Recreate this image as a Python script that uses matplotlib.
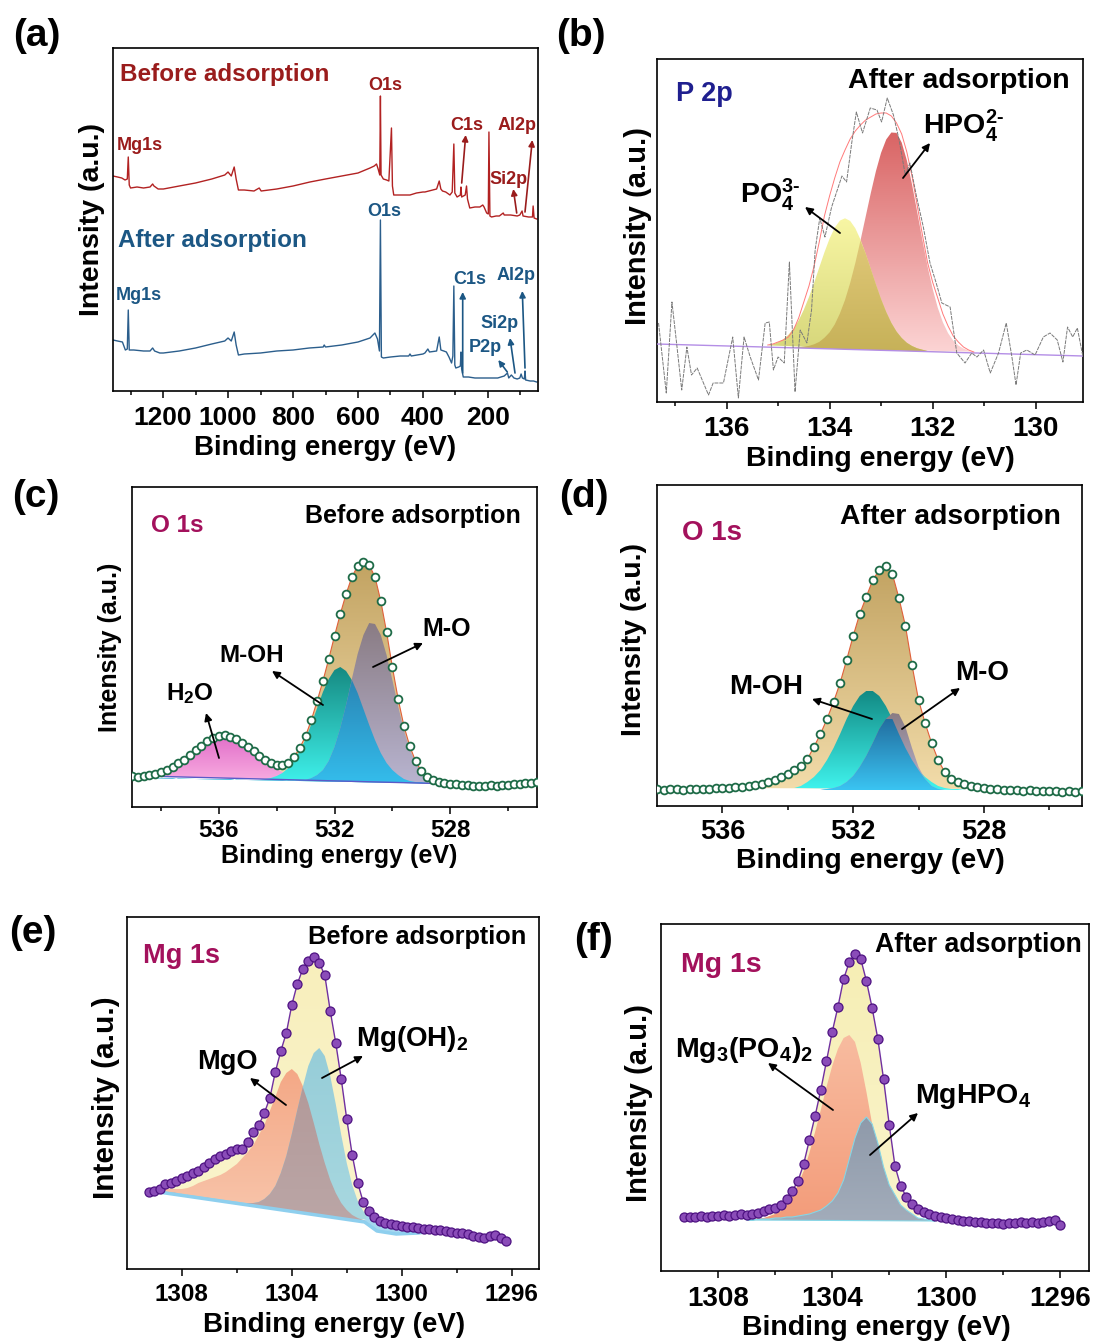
"""
XPS panels: survey, P 2p, O 1s (before/after) and Mg 1s (before/after).
"""

import numpy as np
import matplotlib
matplotlib.use("Agg")
import matplotlib.pyplot as plt
from matplotlib.patches import Polygon, FancyArrowPatch
from matplotlib.colors import LinearSegmentedColormap

plt.rcParams["font.family"] = ["Liberation Sans", "DejaVu Sans"]
plt.rcParams["font.weight"] = "bold"
plt.rcParams["mathtext.fontset"] = "custom"
plt.rcParams["mathtext.rm"] = "Liberation Sans:bold"
plt.rcParams["mathtext.it"] = "Liberation Sans:bold:italic"
plt.rcParams["mathtext.bf"] = "Liberation Sans:bold"

W, H = 1097, 1342

# ── Data (intensities in arbitrary units) ─────────────────────────────────────

# (a) survey spectra
BEFORE_BE = [1354, 1340, 1327, 1317, 1310, 1307, 1304, 1300, 1280, 1260,
             1240, 1232, 1228, 1215, 1199, 1150, 1100, 1050, 1010, 1000,
             990, 981, 975, 968, 950, 920, 904, 898, 850, 800,
             748, 700, 650, 600, 563, 550, 543, 538, 533, 531,
             529, 522, 512, 505, 497, 494, 490, 470, 440, 420,
             400, 394, 370, 358, 350, 345, 340, 330, 317, 310,
             305, 302, 295, 285, 283, 281, 270, 266, 263, 256,
             240, 225, 216, 212, 204, 199, 197, 194, 189, 175,
             165, 153, 150, 130, 110, 102, 95, 92, 75, 63,
             61, 58, 50]
BEFORE_I = [215, 214, 213, 211, 212, 234, 206, 203, 204, 203,
            204, 207, 205, 202, 202, 205, 208, 212, 216, 219,
            215, 224, 212, 201, 201, 200, 203, 200, 202, 205,
            209, 212, 215, 218, 223, 225, 227, 222, 216, 295,
            216, 212, 211, 210, 263, 205, 196, 196, 196, 198,
            199, 199, 201, 202, 210, 202, 200, 199, 196, 199,
            247, 198, 194, 196, 204, 194, 196, 205, 192, 183,
            184, 184, 186, 184, 178, 177, 259, 175, 174, 175,
            175, 178, 176, 176, 175, 176, 180, 175, 174, 174,
            185, 173, 172]
AFTER_BE = [1354, 1340, 1325, 1316, 1310, 1307, 1304, 1290, 1260, 1240,
            1232, 1226, 1210, 1199, 1150, 1100, 1050, 1010, 1000, 990,
            981, 975, 968, 950, 900, 850, 800, 750, 707, 704,
            700, 650, 600, 563, 548, 540, 534, 531, 528, 522,
            500, 470, 444, 440, 436, 400, 394, 385, 380, 358,
            350, 345, 336, 328, 320, 312, 308, 305, 302, 299,
            290, 285, 283, 281, 276, 260, 240, 200, 170, 160,
            150, 140, 136, 128, 120, 110, 102, 98, 94, 88,
            86, 84, 70, 60, 50]
AFTER_I = [51, 50, 49, 41, 42, 81, 41, 41, 40, 40,
           43, 40, 38, 38, 40, 43, 47, 50, 53, 50,
           59, 46, 36, 37, 38, 40, 41, 43, 44, 46,
           44, 46, 49, 53, 58, 52, 40, 171, 34, 33,
           34, 35, 35, 37, 35, 37, 38, 42, 39, 40,
           54, 41, 40, 39, 34, 28, 35, 105, 26, 23,
           24, 25, 39, 22, 14, 14, 13, 13, 13, 14,
           15, 18, 13, 16, 13, 12, 13, 17, 13, 12,
           20, 11, 10, 10, 9]

# (b) P 2p, after adsorption
P2P_BE = [137.32, 137.17, 137.06, 136.97, 136.87, 136.77, 136.68, 136.57, 136.35, 136.26,
          136.06, 135.88, 135.77, 135.66, 135.54, 135.38, 135.25, 135.17, 135.09, 135.0,
          134.88, 134.78, 134.67, 134.57, 134.44, 134.35, 134.28, 134.19, 134.09, 133.96,
          133.85, 133.76, 133.67, 133.57, 133.48, 133.36, 133.21, 133.08, 132.99, 132.88,
          132.76, 132.65, 132.53, 132.44, 132.31, 132.18, 132.05, 131.93, 131.82, 131.66,
          131.53, 131.37, 131.24, 131.14, 131.01, 130.88, 130.72, 130.57, 130.46, 130.38,
          130.29, 130.17, 130.01, 129.85, 129.72, 129.58, 129.47, 129.38, 129.28, 129.19,
          129.08]
P2P_I = [79, 9, 100, 59, 12, 55, 27, 34, 7, 19,
         19, 65, 4, 65, 45, 22, 79, 80, 32, 45,
         39, 140, 10, 72, 59, 92, 152, 184, 165, 195,
         212, 226, 220, 259, 290, 269, 294, 292, 280, 304,
         287, 262, 227, 239, 205, 175, 139, 119, 99, 95,
         49, 39, 49, 45, 52, 29, 49, 79, 45, 17,
         49, 52, 47, 65, 69, 62, 40, 75, 65, 74,
         45]
P2P_BASE_BE = [137.35, 129.08]
P2P_BASE_I = [58, 46]
# fitted curves on 135.2 -> 131.2 eV, 0.1 eV step
P2P_FIT_START, P2P_FIT_END = 135.2, 131.2
PO4_B = [56.6, 57.7, 59.7, 62.6, 67.1, 73.3, 81.6, 92.2, 104.8, 119.2,
         134.5, 149.6, 163.3, 174.3, 181.4, 183.7, 181.1, 173.7, 162.5, 148.5,
         133.1, 117.5, 102.8, 89.9, 79.0, 70.4, 64.0, 59.2, 56.0, 53.7,
         52.3, 51.0, 50.8, 50.4, 50.1, 49.9, 49.8, 49.6, 49.5, 49.3,
         49.2]
HPO4_B = [54.9, 54.7, 54.6, 54.4, 54.5, 54.6, 54.8, 55.3, 56.1, 57.7,
          60.1, 64.2, 69.6, 77.5, 88.4, 102.0, 119.0, 138.9, 161.4, 185.1,
          208.8, 230.8, 249.2, 262.5, 269.5, 269.1, 259.5, 241.7, 217.8, 190.6,
          162.7, 136.3, 113.4, 94.4, 79.6, 68.9, 61.5, 56.5, 53.4, 51.4,
          50.3]
ENV_B = [57, 58, 60, 62, 65, 72, 84, 100, 116, 136,
         160, 186, 206, 224, 240, 252, 263, 271, 277, 282,
         285, 288, 289, 289, 286, 279, 268, 250, 226, 197,
         168, 140, 120, 104, 88, 76, 66, 60, 55, 52,
         50]

# (c) O 1s, before adsorption: data 539.0 -> 525.0 eV, fit 538.6 -> 527.8 eV (0.2 eV)
O1S_B_START, O1S_B_END = 539.0, 525.0
O1S_B = [31, 30, 31, 32, 33, 35, 37, 40, 44, 47,
         52, 57, 61, 66, 69, 71, 72, 70, 68, 64,
         60, 56, 51, 47, 44, 42, 42, 44, 50, 59,
         71, 87, 106, 126, 148, 171, 193, 213, 230, 241,
         245, 242, 230, 206, 175, 140, 108, 81, 61, 46,
         36, 30, 27, 25, 24, 23, 23, 22, 22, 21,
         21, 21, 22, 21, 22, 22, 23, 23, 24, 24,
         25]
O1S_B_FIT_START, O1S_B_FIT_END = 538.6, 527.8
H2O_C = [31, 32, 33, 35, 37, 40, 43, 48, 52, 57,
         61, 65, 68, 70, 71, 70, 68, 64, 60, 56,
         51, 46, 42, 38, 35, 32, 30, 29, 28, 27,
         27, 26, 26, 26, 26, 25, 25, 25, 25, 25,
         25, 25, 25, 25, 24, 24, 24, 24, 24, 24,
         24, 24, 24, 23, 23]
MOH_C = [29, 29, 29, 29, 29, 29, 28, 28, 28, 28,
         28, 28, 28, 28, 28, 28, 27, 27, 27, 27,
         27, 28, 29, 31, 34, 39, 46, 56, 68, 83,
         99, 115, 128, 137, 140, 136, 127, 114, 98, 82,
         67, 54, 44, 37, 32, 28, 26, 25, 25, 24,
         24, 24, 24, 23, 23]
MO_C = [29, 29, 29, 29, 29, 29, 28, 28, 28, 28,
        28, 28, 28, 28, 28, 28, 27, 27, 27, 27,
        27, 27, 27, 27, 27, 26, 26, 27, 27, 29,
        32, 37, 46, 60, 79, 102, 128, 153, 172, 184,
        183, 172, 152, 127, 101, 77, 58, 45, 35, 30,
        27, 25, 24, 24, 23]

# (d) O 1s, after adsorption: data 538.0 -> 525.0 eV, fit 533.8 -> 528.6 eV
O1S_A_START, O1S_A_END = 538.0, 525.0
O1S_A = [17, 16, 17, 17, 16, 17, 17, 17, 17, 18,
         18, 18, 19, 19, 20, 21, 22, 24, 26, 29,
         32, 36, 40, 47, 59, 72, 87, 104, 123, 146,
         170, 192, 209, 226, 236, 240, 232, 208, 180, 141,
         106, 83, 63, 46, 34, 27, 24, 22, 20, 19,
         18, 17, 17, 16, 16, 16, 15, 16, 15, 15,
         15, 15, 14, 15, 14, 15]
O1S_A_FIT_START, O1S_A_FIT_END = 533.8, 528.6
O1S_A_ENV = (536.0, 527.6)
MOH_D = [18, 20, 24, 29, 36, 46, 58, 72, 87, 100,
         110, 115, 115, 110, 100, 87, 72, 58, 46, 36,
         29, 24, 20, 18, 17, 17, 16]
MO_D = [16, 16, 16, 16, 16, 17, 18, 20, 24, 30,
        39, 50, 63, 77, 87, 93, 92, 79, 58, 39,
        27, 20, 17, 16, 16, 16, 16]

# (e) Mg 1s, before adsorption: data 1309.2 -> 1296.2 eV, fit 1309.0 -> 1301.0 eV
MG_B_START, MG_B_END = 1309.2, 1296.2
MG_B = [77, 78, 80, 85, 86, 88, 91, 93, 96, 98,
        102, 106, 110, 113, 115, 118, 120, 120, 127, 137,
        144, 156, 171, 197, 218, 236, 264, 285, 300, 308,
        312, 306, 294, 258, 226, 190, 150, 114, 86, 67,
        58, 52, 48, 46, 45, 44, 43, 42, 42, 41,
        40, 40, 39, 39, 38, 37, 36, 36, 35, 33,
        32, 31, 33, 34, 31, 28]
MG_B_FIT_START, MG_B_FIT_END = 1309.0, 1301.0
MGO_E = [79, 79, 80, 80, 80, 80, 81, 83, 86, 88,
         90, 92, 94, 97, 101, 105, 111, 117, 124, 134,
         144, 158, 172, 187, 196, 200, 195, 183, 166, 146,
         125, 106, 89, 76, 66, 59, 54, 51, 49, 47,
         46]
MGOH_E = [79, 78, 77, 77, 76, 75, 74, 73, 72, 72,
          71, 70, 69, 68, 67, 67, 66, 66, 66, 67,
          70, 75, 83, 96, 113, 135, 159, 182, 203, 216,
          221, 213, 193, 165, 134, 106, 84, 68, 58, 52,
          48]
MG_B_BASE_BE = [1309.1, 1301.35, 1300.9, 1300.2, 1299.4, 1298.6]
MG_B_BASE_I = [78, 47, 38, 35, 36, 39]

# (f) Mg 1s, after adsorption: data 1309.2 -> 1296.0 eV, fit 1307.0 -> 1300.4 eV
MG_A_START, MG_A_END = 1309.2, 1296.0
MG_A = [54, 54, 54, 55, 54, 55, 55, 56, 55, 56,
        57, 56, 57, 58, 60, 62, 63, 66, 72, 80,
        90, 107, 131, 155, 181, 210, 239, 264, 292, 309,
        317, 312, 290, 263, 232, 192, 146, 105, 85, 74,
        67, 62, 59, 57, 55, 54, 53, 52, 51, 50,
        50, 49, 49, 48, 48, 48, 47, 48, 48, 49,
        48, 49, 48, 49, 50, 51, 46]
MG_A_FIT_START, MG_A_FIT_END = 1307.0, 1300.4
MG_A_ENV = (1307.4, 1300.4)
MG3PO4_F = [52, 52, 53, 53, 55, 57, 60, 66, 74, 86,
            100, 118, 139, 161, 184, 205, 222, 233, 236, 229,
            208, 179, 147, 117, 93, 75, 64, 57, 53, 51,
            50, 50, 50, 50]
MGHPO4_F = [51, 51, 52, 52, 52, 53, 53, 54, 54, 55,
            56, 57, 59, 61, 65, 70, 78, 91, 112, 133,
            148, 154, 147, 128, 104, 86, 76, 66, 61, 57,
            53, 52, 51, 50]

# ── Style ─────────────────────────────────────────────────────────────────────

RED_T, RED_L = "#9a1c1c", "#b22222"
BLU_T, BLU_L = "#1c5784", "#2b5e8c"
MAGENTA = "#a3115c"
NAVY = "#1f1f8f"

fig = plt.figure(figsize=(W / 100, H / 100), dpi=100)


def fxy(x, y):
    return (x / W, 1 - y / H)


def text(x, y, s, size, color="black", ha="left", va="center", rot=0):
    fig.text(x / W, 1 - y / H, s, fontsize=size, color=color, ha=ha, va=va,
             fontweight="bold", rotation=rot)


def arrow(tail, head, color="black", lw=1.3, ms=11):
    fig.add_artist(FancyArrowPatch(fxy(*tail), fxy(*head), arrowstyle="-|>",
                                   mutation_scale=ms, color=color, lw=lw,
                                   shrinkA=0, shrinkB=0, transform=fig.transFigure))


def panel(box, xlim, major, minor, fs, pad):
    l, t, r, b = box
    ax = fig.add_axes([l / W, 1 - b / H, (r - l) / W, (b - t) / H])
    ax.set_xticks(major, labels=[str(v) for v in major])
    ax.set_xticks(minor, minor=True)
    ax.set_yticks([])
    ax.tick_params(axis="x", which="major", direction="out", length=5, width=1.1,
                   labelsize=fs, pad=pad)
    ax.tick_params(axis="x", which="minor", direction="out", length=3, width=1.1)
    for s in ax.spines.values():
        s.set_linewidth(1.2)
    return ax


def finish(ax, box, xlim):
    ax.set_xlim(*xlim)
    ax.set_ylim(0, box[3] - box[1])


def grad_fill(ax, x, y, top, bottom, z, edge="none", lw=0.0):
    x = np.asarray(x, float)
    y = np.asarray(y, float)
    poly = Polygon(np.column_stack([x, y]), closed=True, facecolor="none",
                   edgecolor=edge, lw=lw, zorder=z + 0.1)
    ax.add_patch(poly)
    cmap = LinearSegmentedColormap.from_list("g", [bottom, top])
    img = ax.imshow(np.linspace(0, 1, 256).reshape(-1, 1), cmap=cmap, origin="lower",
                    aspect="auto", interpolation="bilinear", zorder=z,
                    extent=[x.min(), x.max(), y.min(), y.max()])
    img.set_clip_path(poly)


def window(x, y, hi, lo):
    x = np.asarray(x, float)
    y = np.asarray(y, float)
    m = (x <= hi + 1e-6) & (x >= lo - 1e-6)
    return x[m], y[m]


def axis_labels(xl, yl, fsx, fsy):
    text(xl[0], xl[1], "Binding energy (eV)", fsx, ha="center")
    text(yl[0], yl[1], "Intensity (a.u.)", fsy, ha="center", rot=90)


# ── (a) survey ────────────────────────────────────────────────────────────────
BOX_A = (113, 48, 538, 391)
XL_A = (1354, 46)
ax = panel(BOX_A, XL_A, [1200, 1000, 800, 600, 400, 200],
           [1300, 1100, 900, 700, 500, 300, 100], 19, 5.5)
ax.plot(BEFORE_BE, BEFORE_I, color=RED_L, lw=1.0)
ax.plot(AFTER_BE, AFTER_I, color=BLU_L, lw=1.0)
finish(ax, BOX_A, XL_A)
axis_labels((325, 448), (92, 219), 20, 20.5)

text(120, 74, "Before adsorption", 17.5, RED_T)
text(117, 145, "Mg1s", 13, RED_T)
text(385, 86, "O1s", 13, RED_T, ha="center")
text(467, 126, "C1s", 13, RED_T, ha="center")
text(517, 126, "Al2p", 13, RED_T, ha="center")
text(509, 179, "Si2p", 13, RED_T, ha="center")
arrow((461.7, 183), (465.7, 135), RED_T, 1.2, 9)
arrow((525, 212), (532.3, 140), RED_T, 1.2, 9)
arrow((516.7, 213), (513.3, 189), RED_T, 1.2, 9)

text(118, 241, "After adsorption", 17.5, BLU_T)
text(116, 295, "Mg1s", 13, BLU_T)
text(384, 211, "O1s", 13, BLU_T, ha="center")
text(470, 280, "C1s", 13, BLU_T, ha="center")
text(516, 275, "Al2p", 13, BLU_T, ha="center")
text(500, 323, "Si2p", 13, BLU_T, ha="center")
text(485, 348, "P2p", 13, BLU_T, ha="center")
arrow((462.7, 373), (462.7, 292), BLU_T, 1.2, 9)
arrow((525, 368), (522.3, 291), BLU_T, 1.2, 9)
arrow((515, 373), (510, 338), BLU_T, 1.2, 9)
arrow((507.3, 372), (498.3, 360), BLU_T, 1.2, 9)

# ── (b) P 2p ──────────────────────────────────────────────────────────────────
BOX_B = (657, 59, 1083, 402)
XL_B = (137.35, 129.08)
ax = panel(BOX_B, XL_B, [136, 134, 132, 130], [137, 135, 133, 131], 20, 4.8)
fit_b = np.linspace(P2P_FIT_START, P2P_FIT_END, len(PO4_B))
grad_fill(ax, fit_b, HPO4_B, "#d96464", "#fcd4d4", 2)
grad_fill(ax, fit_b, PO4_B, "#f8f6a4", "#d6d67a", 3)
grad_fill(ax, fit_b, np.minimum(PO4_B, HPO4_B), "#e0c878", "#c6b158", 4)
ax.plot(P2P_BASE_BE, P2P_BASE_I, color="#b48ee6", lw=1.0, zorder=5)
ax.plot(fit_b, ENV_B, color="#ff7a7a", lw=0.7, zorder=5)
ax.plot(P2P_BE, P2P_I, color="#7a7a7a", lw=0.7, ls=(0, (4, 1)), zorder=6)
finish(ax, BOX_B, XL_B)
axis_labels((880, 459), (638, 226), 20.5, 21)

text(676, 94, "P 2p", 19.5, NAVY)
text(1070, 81, "After adsorption", 20.5, ha="right")
text(923, 134, r"HPO$_4^{2\text{-}}$", 20.5, va="baseline")
text(740, 203, r"PO$_4^{3\text{-}}$", 20.5, va="baseline")
arrow((903, 178), (930, 143))
arrow((840, 233), (805, 207))

# ── (c) O 1s before ───────────────────────────────────────────────────────────
BOX_C = (132, 487, 537, 807)
XL_C = (539.0, 525.0)
ax = panel(BOX_C, XL_C, [536, 532, 528], [538, 534, 530, 526], 17.5, 3.4)
be_c = np.linspace(O1S_B_START, O1S_B_END, len(O1S_B))
fit_c = np.linspace(O1S_B_FIT_START, O1S_B_FIT_END, len(H2O_C))
ex, ey = window(be_c, O1S_B, O1S_B_FIT_START, O1S_B_FIT_END)
grad_fill(ax, ex, ey, "#c2a362", "#f2dcaa", 1)
grad_fill(ax, fit_c, H2O_C, "#e26fc9", "#f9b0e2", 2)
grad_fill(ax, fit_c, MOH_C, "#168a82", "#3ff2ec", 3)
grad_fill(ax, fit_c, MO_C, "#8a7c84", "#b8b4d0", 4)
grad_fill(ax, fit_c, np.minimum(MOH_C, MO_C), "#2a86b6", "#34bdec", 5)
ax.plot([fit_c[0], fit_c[-1]], [H2O_C[0], MO_C[-1]], color="#5a5ac8", lw=1.0, zorder=6)
ax.plot(be_c, O1S_B, color="#e0603a", lw=0.8, zorder=6)
ax.plot(be_c, O1S_B, ls="none", marker="o", ms=5.6, mfc="white", mec="#1e6b47",
        mew=1.3, zorder=7)
finish(ax, BOX_C, XL_C)
axis_labels((339, 856), (110, 647), 18, 18)

text(151, 526, "O 1s", 17.5, MAGENTA)
text(305, 516, "Before adsorption", 18)
text(422, 629, "M-O", 18)
text(219, 656, "M-OH", 17.5)
text(166, 700, r"H$_2$O", 17.5, va="baseline")
arrow((373, 667), (423, 643))
arrow((323, 705), (272, 671))
arrow((219, 758), (206, 713))

# ── (d) O 1s after ────────────────────────────────────────────────────────────
BOX_D = (657, 485, 1082, 806)
XL_D = (538.0, 525.0)
ax = panel(BOX_D, XL_D, [536, 532, 528], [534, 530, 526], 19.5, 4.5)
be_d = np.linspace(O1S_A_START, O1S_A_END, len(O1S_A))
fit_d = np.linspace(O1S_A_FIT_START, O1S_A_FIT_END, len(MOH_D))
ex, ey = window(be_d, O1S_A, *O1S_A_ENV)
grad_fill(ax, ex, ey, "#c2a362", "#f2dcaa", 1)
grad_fill(ax, fit_d, MOH_D, "#128a84", "#40f4ee", 3)
grad_fill(ax, fit_d, MO_D, "#8a7c84", "#b8b4d0", 4)
grad_fill(ax, fit_d, np.minimum(MOH_D, MO_D), "#226ea0", "#3ac4f2", 5)
ax.plot(be_d, O1S_A, color="#e0603a", lw=0.8, zorder=6)
ax.plot(be_d, O1S_A, ls="none", marker="o", ms=5.6, mfc="white", mec="#1e6b47",
        mew=1.3, zorder=7)
finish(ax, BOX_D, XL_D)
axis_labels((870, 861), (634, 639), 20.5, 20.5)

text(682, 533, "O 1s", 20, MAGENTA)
text(840, 517, "After adsorption", 20.4)
text(729, 687, "M-OH", 20)
text(955, 673, "M-O", 20)
arrow((872, 719), (812, 699))
arrow((902, 729), (960, 688))

# ── (e) Mg 1s before ──────────────────────────────────────────────────────────
BOX_E = (127, 917, 539, 1269)
XL_E = (1310.0, 1295.0)
ax = panel(BOX_E, XL_E, [1308, 1304, 1300, 1296], [1306, 1302, 1298], 17.5, 4.8)
be_e = np.linspace(MG_B_START, MG_B_END, len(MG_B))
fit_e = np.linspace(MG_B_FIT_START, MG_B_FIT_END, len(MGO_E))
ex, ey = window(be_e, MG_B, MG_B_START, MG_B_FIT_END)
grad_fill(ax, ex, ey, "#f8efbc", "#faf4cc", 1)
grad_fill(ax, fit_e, MGO_E, "#f4a886", "#f8c6ac", 2)
grad_fill(ax, fit_e, MGOH_E, "#96cdd8", "#a8d8e0", 3)
grad_fill(ax, fit_e, np.minimum(MGO_E, MGOH_E), "#b39a9a", "#bba6a6", 4)
dx, dy = window(be_e, MG_B, MG_B_BASE_BE[1], MG_B_BASE_BE[-1])
dip = np.column_stack([np.r_[dx, MG_B_BASE_BE[:0:-1]], np.r_[dy, MG_B_BASE_I[:0:-1]]])
ax.add_patch(Polygon(dip, closed=True, fc="#a6d8f0", ec="none", zorder=4.5))
ax.plot(MG_B_BASE_BE, MG_B_BASE_I, color="#8ecfee", lw=2.5, zorder=4.6)
ax.plot(be_e, MG_B, color="#7030a0", lw=1.0, zorder=5)
ax.plot(be_e, MG_B, ls="none", marker="o", ms=6.5, mfc="#8a4cb8", mec="#4e1282",
        mew=0.9, zorder=6)
finish(ax, BOX_E, XL_E)
axis_labels((334, 1325), (106, 1098), 20, 21.5)

text(143, 956, "Mg 1s", 19.5, MAGENTA)
text(308, 937, "Before adsorption", 18.3)
text(197, 1062, "MgO", 19.5)
text(356, 1046, r"Mg(OH)$_2$", 20, va="baseline")
arrow((286, 1105), (250, 1078))
arrow((322, 1078), (363, 1056))

# ── (f) Mg 1s after ───────────────────────────────────────────────────────────
BOX_F = (661, 924, 1089, 1271)
XL_F = (1310.0, 1295.0)
ax = panel(BOX_F, XL_F, [1308, 1304, 1300, 1296], [1306, 1302, 1298], 20, 5.6)
be_f = np.linspace(MG_A_START, MG_A_END, len(MG_A))
fit_f = np.linspace(MG_A_FIT_START, MG_A_FIT_END, len(MG3PO4_F))
ex, ey = window(be_f, MG_A, *MG_A_ENV)
grad_fill(ax, ex, ey, "#f6eeb4", "#faf4cc", 1)
grad_fill(ax, fit_f, MG3PO4_F, "#f8bca0", "#f39c7a", 2)
grad_fill(ax, fit_f, MGHPO4_F, "#8f9aaa", "#a2acba", 3, edge="#86d6e6", lw=0.8)
ax.plot(be_f, MG_A, color="#7030a0", lw=1.0, zorder=5)
ax.plot(be_f, MG_A, ls="none", marker="o", ms=6.5, mfc="#8a4cb8", mec="#4e1282",
        mew=0.9, zorder=6)
finish(ax, BOX_F, XL_F)
axis_labels((876, 1328), (639, 1103), 20.5, 21)

text(681, 965, "Mg 1s", 20.5, MAGENTA)
text(875, 945, "After adsorption", 19.2)
text(675, 1057, r"Mg$_3$(PO$_4$)$_2$", 20.5, va="baseline")
text(915, 1103, r"MgHPO$_4$", 20.5, va="baseline")
arrow((833, 1110), (768, 1063))
arrow((870, 1155), (918, 1113))

# ── panel letters ─────────────────────────────────────────────────────────────
for lab, (x, y) in zip("abcdef", [(37, 36), (581, 36), (36, 497), (584, 497),
                                   (33, 933), (593, 940)]):
    text(x, y, f"({lab})", 28, ha="center")

fig.savefig("out.png", dpi=100)
